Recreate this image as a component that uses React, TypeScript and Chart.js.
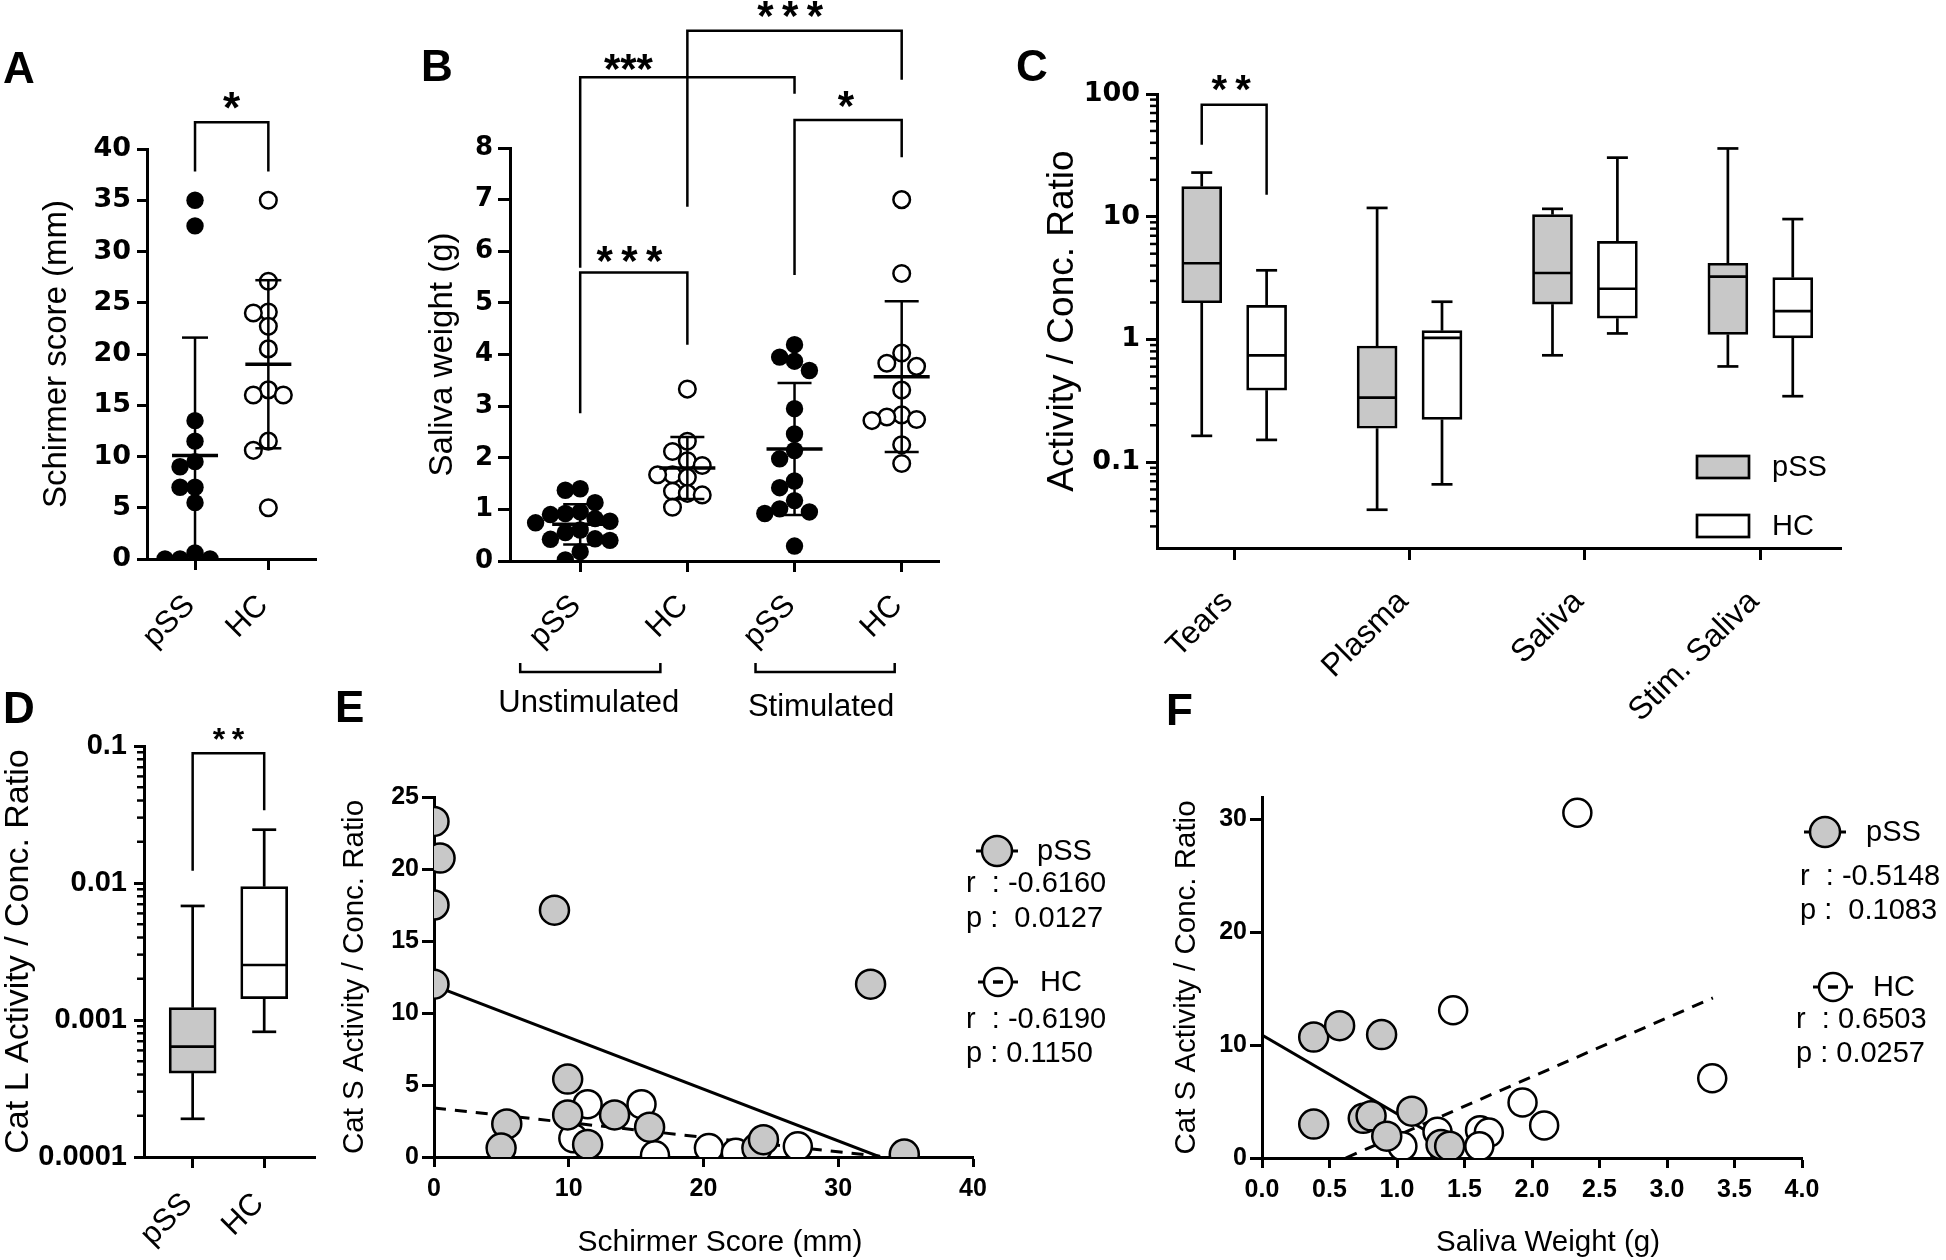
import React, { useEffect, useRef } from 'react';
import { Chart, registerables } from 'chart.js';

Chart.register(...registerables);

// ================= DATA =================
// A – Schirmer score
const schirmerGroups = ['pSS', 'HC'];
const schirmerPss = [35, 32.5, 13.5, 11.5, 9.5, 9, 7, 7, 5.5, 0.6, 0, 0, 0];
const schirmerHc = [35, 27.1, 24.1, 24, 22.7, 20.5, 16.5, 16, 16, 11.5, 10.6, 5];
const schirmerMean = [10.1, 19.0];
const schirmerSd = [11.5, 8.2];
const schirmerTicks = [0, 5, 10, 15, 20, 25, 30, 35, 40];

// B – Saliva weight
const salivaGroups = ['pSS', 'HC', 'pSS', 'HC'];
const salivaConditions = ['Unstimulated', 'Stimulated'];
const salivaUnstimPss = [1.4, 1.37, 1.13, 0.95, 0.92, 0.9, 0.82, 0.77, 0.74, 0.6, 0.55, 0.43, 0.42, 0.4, 0.18, 0.02];
const salivaUnstimHc = [3.33, 2.32, 2.12, 1.94, 1.85, 1.67, 1.67, 1.62, 1.35, 1.31, 1.28, 1.04];
const salivaStimPss = [4.19, 3.95, 3.87, 3.69, 2.95, 2.46, 2.14, 1.98, 1.55, 1.42, 1.17, 1.01, 0.95, 0.92, 0.29];
const salivaStimHc = [7.0, 5.57, 4.03, 3.83, 3.77, 3.31, 2.83, 2.79, 2.74, 2.72, 2.25, 1.89];
const salivaMean = [0.71, 1.8, 2.17, 3.57];
const salivaSd = [0.39, 0.6, 1.28, 1.46];
const salivaTicks = [0, 1, 2, 3, 4, 5, 6, 7, 8];

// C – Activity / concentration ratio (box plots)
const ratioSamples = ['Tears', 'Plasma', 'Saliva', 'Stim. Saliva'];
const ratioPssMin = [0.164, 0.041, 0.743, 0.603];
const ratioPssQ1 = [1.99, 0.189, 1.94, 1.1];
const ratioPssMedian = [4.18, 0.336, 3.48, 3.25];
const ratioPssQ3 = [17.6, 0.885, 10.4, 4.18];
const ratioPssMax = [22.9, 11.8, 11.6, 36];
const ratioHcMin = [0.152, 0.066, 1.12, 0.345];
const ratioHcQ1 = [0.386, 0.223, 1.49, 1.03];
const ratioHcMedian = [0.743, 1.03, 2.59, 1.7];
const ratioHcQ3 = [1.9, 1.18, 6.3, 3.19];
const ratioHcMax = [3.66, 2.03, 30.3, 9.57];
const ratioTicks = [0.1, 1, 10, 100];

// D – Cat L activity / conc ratio
const catLGroups = ['pSS', 'HC'];
const catLMin = [0.00019, 0.00082];
const catLQ1 = [0.00041, 0.00143];
const catLMedian = [0.00064, 0.00252];
const catLQ3 = [0.00123, 0.0094];
const catLMax = [0.0068, 0.0245];
const catLTicks = [0.0001, 0.001, 0.01, 0.1];

// E – Cat S vs Schirmer score
const corrSeries = ['pSS', 'HC'];
const eSchirmerPss = [0, 0.45, 0, 8.94, 0, 32.4, 9.92, 5.4, 4.98, 9.92, 11.4, 13.4, 16.0, 23.96, 24.45, 34.9];
const eCatSPss = [23.3, 20.76, 17.5, 17.14, 12.0, 12.0, 5.41, 2.3, 0.62, 2.92, 0.87, 2.92, 2.07, 0.62, 1.2, 0.2];
const eSchirmerHc = [11.4, 15.4, 10.34, 16.4, 20.4, 22.4, 27.0];
const eCatSHc = [3.67, 3.67, 1.3, 0.12, 0.62, 0.3, 0.75];
const eFitIntercept = [11.9, 3.4];
const eFitSlope = [-0.3595, -0.1012];
const eFitFrom = [0, 0];
const eFitTo = [33.1, 33.1];
const eStats = [['r  : -0.6160', 'p :  0.0127'], ['r  : -0.6190', 'p : 0.1150']];
const eXTicks = [0, 10, 20, 30, 40];
const eYTicks = [0, 5, 10, 15, 20, 25];

// F – Cat S vs saliva weight
const fSalivaPss = [0.383, 0.575, 0.886, 0.383, 0.75, 0.808, 0.924, 1.11, 1.326, 1.39];
const fCatSPss = [10.72, 11.73, 10.94, 3.01, 3.52, 3.74, 1.93, 4.15, 1.2, 1.05];
const fSalivaHc = [2.336, 1.416, 3.335, 1.93, 2.09, 1.3, 1.04, 1.615, 1.68, 1.61, 1.35];
const fCatSHc = [30.6, 13.1, 7.07, 4.92, 2.89, 2.32, 1.05, 2.47, 2.25, 1.05, 0.67];
const fFitIntercept = [10.9, -3.24];
const fFitSlope = [-6.98, 5.22];
const fFitFrom = [0, 0.62];
const fFitTo = [1.39, 3.34];
const fStats = [['r  : -0.5148', 'p :  0.1083'], ['r  : 0.6503', 'p : 0.0257']];
const fXTicks = [0, 0.5, 1, 1.5, 2, 2.5, 3, 3.5, 4];
const fYTicks = [0, 10, 20, 30];

// ================= STYLE / LAYOUT =================
const SANS = "'Liberation Sans', Arial, Helvetica, sans-serif";
const WIDE = "'DejaVu Sans', 'Liberation Sans', sans-serif";
const GRAY = '#c8c8c8';

type Geo = { left: number; top: number; width: number; height: number; l: number; t: number; r: number; b: number };

const GEO_A: Geo = { left: 0, top: 0, width: 340, height: 700, l: 147, t: 149, r: 316, b: 559 };
const GEO_B: Geo = { left: 330, top: 0, width: 620, height: 730, l: 510, t: 148, r: 943, b: 561 };
const GEO_C: Geo = { left: 1000, top: 0, width: 946, height: 740, l: 1157, t: 94, r: 1841, b: 548 };
const GEO_D: Geo = { left: 0, top: 668, width: 340, height: 592, l: 144, t: 746, r: 315, b: 1157 };
const GEO_E: Geo = { left: 330, top: 668, width: 800, height: 592, l: 434, t: 797, r: 973, b: 1157 };
const GEO_F: Geo = { left: 1150, top: 668, width: 796, height: 592, l: 1262, t: 797, r: 1802, b: 1158 };

function zeroPad(s: any) {
  s.paddingLeft = 0; s.paddingRight = 0; s.paddingTop = 0; s.paddingBottom = 0;
}
const fitY = (g: Geo) => (s: any) => { s.width = g.l - g.left; zeroPad(s); };
const fitX = (g: Geo) => (s: any) => { s.height = g.top + g.height - g.b; zeroPad(s); };
const setTicks = (vals: number[]) => (s: any) => { s.ticks = vals.map((v) => ({ value: v })); };

function common(g: Geo) {
  return {
    responsive: false,
    animation: false as const,
    events: [] as any[],
    devicePixelRatio: 1,
    layout: { padding: { left: 0, top: g.t - g.top, right: g.left + g.width - g.r, bottom: 0 } },
    plugins: { legend: { display: false }, tooltip: { enabled: false }, title: { display: false } },
  };
}
function axisLines(tickLength: number) {
  return {
    border: { display: true, color: '#000', width: 3 },
    grid: { display: true, drawOnChartArea: false, drawTicks: true, tickLength, tickWidth: 3, tickColor: '#000', offset: false },
  };
}

function swarm(values: number[], pxPerY: number, pxPerX: number, step: number, minDist: number): number[] {
  const order = values.map((_, i) => i).sort((a, b) => values[b] - values[a]);
  const placed: { x: number; y: number }[] = [];
  const out: number[] = new Array(values.length).fill(0);
  for (const i of order) {
    const y = values[i] * pxPerY;
    for (let k = 0; k < 60; k++) {
      const off = k === 0 ? 0 : (k % 2 === 1 ? -1 : 1) * Math.ceil(k / 2) * step;
      if (placed.every((p) => Math.hypot(p.x - off, p.y - y) >= minDist)) {
        placed.push({ x: off, y });
        out[i] = off / pxPerX;
        break;
      }
    }
  }
  return out;
}

// ================= DRAW HELPERS =================
function hText(ctx: CanvasRenderingContext2D, s: string, x: number, y: number, font: string, align: CanvasTextAlign = 'left', baseline: CanvasTextBaseline = 'alphabetic') {
  ctx.font = font; ctx.fillStyle = '#000'; ctx.textAlign = align; ctx.textBaseline = baseline; ctx.fillText(s, x, y);
}
function vText(ctx: CanvasRenderingContext2D, s: string, cx: number, cy: number, font: string) {
  ctx.save(); ctx.translate(cx, cy); ctx.rotate(-Math.PI / 2); hText(ctx, s, 0, 0, font, 'center', 'middle'); ctx.restore();
}
function rotLabel(ctx: CanvasRenderingContext2D, s: string, x: number, y: number, font: string) {
  ctx.save(); ctx.translate(x, y); ctx.rotate(-Math.PI / 4); hText(ctx, s, 0, 0, font, 'right', 'alphabetic'); ctx.restore();
}
function stars(ctx: CanvasRenderingContext2D, s: string, cx: number, cy: number, size: number) {
  hText(ctx, s, cx, cy + 0.57 * size, `bold ${size}px ${SANS}`, 'center');
}
function letter(ctx: CanvasRenderingContext2D, s: string, x: number, baseline: number) {
  hText(ctx, s, x, baseline, `bold 44px ${SANS}`);
}
function seg(ctx: CanvasRenderingContext2D, pts: number[][], w: number, dash: number[] = []) {
  ctx.save(); ctx.strokeStyle = '#000'; ctx.lineWidth = w; ctx.setLineDash(dash); ctx.lineCap = 'butt'; ctx.lineJoin = 'miter';
  ctx.beginPath(); pts.forEach(([x, y], i) => (i ? ctx.lineTo(x, y) : ctx.moveTo(x, y))); ctx.stroke(); ctx.restore();
}
function bracket(ctx: CanvasRenderingContext2D, x1: number, x2: number, yTop: number, y1: number, y2: number) {
  seg(ctx, [[x1, y1], [x1, yTop], [x2, yTop], [x2, y2]], 2.5);
}
function meanSd(ctx: CanvasRenderingContext2D, x: number, ym: number, ytop: number, ybot: number, capBottom: boolean, halfMean: number, halfCap: number) {
  seg(ctx, [[x, ytop], [x, ybot]], 2.5);
  seg(ctx, [[x - halfCap, ytop], [x + halfCap, ytop]], 2.5);
  if (capBottom) seg(ctx, [[x - halfCap, ybot], [x + halfCap, ybot]], 2.5);
  seg(ctx, [[x - halfMean, ym], [x + halfMean, ym]], 3.5);
}
function whiskers(ctx: CanvasRenderingContext2D, x: number, yq1: number, yq3: number, ymin: number, ymax: number, ymed: number, halfBox: number, halfCap: number) {
  const w = 2.7;
  seg(ctx, [[x, yq3], [x, ymax]], w);
  seg(ctx, [[x - halfCap, ymax], [x + halfCap, ymax]], w);
  seg(ctx, [[x, yq1], [x, ymin]], w);
  seg(ctx, [[x - halfCap, ymin], [x + halfCap, ymin]], w);
  seg(ctx, [[x - halfBox, ymed], [x + halfBox, ymed]], w);
}
function logMinor(ctx: CanvasRenderingContext2D, chart: any, g: Geo, len: number) {
  const s = chart.scales.y;
  for (let e = Math.floor(Math.log10(s.min)); e <= Math.ceil(Math.log10(s.max)); e++) {
    for (let m = 2; m <= 9; m++) {
      const v = m * Math.pow(10, e);
      if (v <= s.min * 1.001 || v >= s.max) continue;
      const y = s.getPixelForValue(v) + g.top;
      seg(ctx, [[g.l - len, y], [g.l, y]], 2.5);
    }
  }
}
function corrLegend(ctx: CanvasRenderingContext2D, o: { cx: number; cy: number; r: number; fill: string; dashed: boolean; name: string; nameX: number; lines: string[]; linesX: number; baselines: number[] }) {
  const font = `29px ${SANS}`;
  seg(ctx, [[o.cx - o.r - 6, o.cy], [o.cx - o.r, o.cy]], 3);
  seg(ctx, [[o.cx + o.r, o.cy], [o.cx + o.r + 6, o.cy]], 3);
  ctx.save();
  ctx.beginPath(); ctx.arc(o.cx, o.cy, o.r, 0, Math.PI * 2);
  ctx.fillStyle = o.fill; ctx.fill(); ctx.lineWidth = 2.5; ctx.strokeStyle = '#000'; ctx.stroke();
  ctx.restore();
  if (o.dashed) seg(ctx, [[o.cx - 5, o.cy], [o.cx + 5, o.cy]], 3.5);
  hText(ctx, o.name, o.nameX, o.cy + 1, font, 'left', 'middle');
  o.lines.forEach((s, i) => hText(ctx, s, o.linesX, o.baselines[i], font));
}

function annot(g: Geo, draw: (ctx: CanvasRenderingContext2D, X: (v: number) => number, Y: (v: number) => number, chart: any) => void) {
  return {
    id: 'annot',
    afterDraw(chart: any) {
      const ctx = chart.ctx as CanvasRenderingContext2D;
      ctx.save();
      ctx.translate(-g.left, -g.top);
      const X = (v: number) => chart.scales.x.getPixelForValue(v) + g.left;
      const Y = (v: number) => chart.scales.y.getPixelForValue(v) + g.top;
      draw(ctx, X, Y, chart);
      ctx.restore();
    },
  };
}

const pointsStyle = (filled: string, radius: number, bw: number) => ({
  pointRadius: radius,
  pointBackgroundColor: filled,
  backgroundColor: filled,
  pointBorderColor: '#000',
  borderColor: '#000',
  pointBorderWidth: bw,
});

// ================= PANELS =================
function configA(g: Geo) {
  const xmin = -0.655, xmax = 1.65, ymax = 40;
  const pxX = (g.r - g.l) / (xmax - xmin), pxY = (g.b - g.t) / ymax;
  const offP = swarm(schirmerPss, pxY, pxX, 15, 14);
  const offH = swarm(schirmerHc, pxY, pxX, 15, 14);
  const plugin = annot(g, (ctx, X, Y) => {
    schirmerMean.forEach((m, i) => {
      const lo = m - schirmerSd[i];
      meanSd(ctx, X(i), Y(m), Y(m + schirmerSd[i]), Y(Math.max(lo, 0)), lo >= 0, 23, 13);
    });
    bracket(ctx, X(0), X(1), Y(42.6), Y(37.8), Y(37.8));
    stars(ctx, '*', (X(0) + X(1)) / 2, Y(45), 44);
    schirmerGroups.forEach((s, i) => rotLabel(ctx, s, X(i) + 1, g.b + 48, `31px ${SANS}`));
    vText(ctx, 'Schirmer score (mm)', 57, (g.t + g.b) / 2, `33px ${SANS}`);
    letter(ctx, 'A', 3, 83);
  });
  return {
    type: 'scatter',
    data: {
      datasets: [
        { label: schirmerGroups[0], data: schirmerPss.map((v, i) => ({ x: 0 + offP[i], y: v })), ...pointsStyle('#000', 8.7, 0) },
        { label: schirmerGroups[1], data: schirmerHc.map((v, i) => ({ x: 1 + offH[i], y: v })), ...pointsStyle('#fff', 8.3, 2.5) },
      ],
    },
    options: {
      ...common(g),
      scales: {
        x: { type: 'linear', min: xmin, max: xmax, bounds: 'data', ...axisLines(11), ticks: { display: false }, afterBuildTicks: setTicks([0, 1]), afterFit: fitX(g) },
        y: { type: 'linear', min: 0, max: ymax, bounds: 'data', ...axisLines(10), ticks: { color: '#000', padding: 6, font: { family: WIDE, size: 27, weight: 'bold' } }, afterBuildTicks: setTicks(schirmerTicks), afterFit: fitY(g) },
      },
    },
    plugins: [plugin],
  };
}

const bBrackets = [
  { a: 0, b: 1, top: 5.59, ea: 2.86, eb: 4.19, text: '*\u2009*\u2009*', tx: 0.46, ty: 6.0 },
  { a: 0, b: 2, top: 9.37, ea: 5.68, eb: 9.05, text: '***', tx: 0.45, ty: 9.73 },
  { a: 1, b: 3, top: 10.27, ea: 6.86, eb: 9.32, text: '*\u2009*\u2009*', tx: 1.96, ty: 10.74 },
  { a: 2, b: 3, top: 8.54, ea: 5.54, eb: 7.82, text: '*', tx: 2.48, ty: 9.0 },
];

function configB(g: Geo) {
  const xmin = -0.655, xmax = 3.35, ymax = 8;
  const pxX = (g.r - g.l) / (xmax - xmin), pxY = (g.b - g.t) / ymax;
  const groups = [salivaUnstimPss, salivaUnstimHc, salivaStimPss, salivaStimHc];
  const datasets = groups.map((vals, gi) => {
    const off = swarm(vals, pxY, pxX, 15, 14);
    const filled = gi % 2 === 0;
    return { label: salivaGroups[gi], data: vals.map((v, i) => ({ x: gi + off[i], y: v })), ...pointsStyle(filled ? '#000' : '#fff', filled ? 8.7 : 8.3, filled ? 0 : 2.5) };
  });
  const plugin = annot(g, (ctx, X, Y) => {
    salivaMean.forEach((m, i) => {
      const lo = m - salivaSd[i];
      meanSd(ctx, X(i), Y(m), Y(m + salivaSd[i]), Y(Math.max(lo, 0)), lo >= 0, 28, 17);
    });
    bBrackets.forEach((br) => {
      bracket(ctx, X(br.a), X(br.b), Y(br.top), Y(br.ea), Y(br.eb));
      stars(ctx, br.text, X(br.tx), Y(br.ty), 42);
    });
    salivaGroups.forEach((s, i) => rotLabel(ctx, s, X(i) + 2, g.b + 46, `31px ${SANS}`));
    const yb = 672;
    const spans = [[X(0) - 60, X(1) - 27, (X(0) + X(1)) / 2 - 45, 712], [X(2) - 39, X(3) - 7, (X(2) + X(3)) / 2 - 27, 716]];
    spans.forEach(([x1, x2, tx, ty], i) => {
      seg(ctx, [[x1, yb - 9], [x1, yb], [x2, yb], [x2, yb - 9]], 2.5);
      hText(ctx, salivaConditions[i], tx, ty, `31px ${SANS}`, 'center');
    });
    vText(ctx, 'Saliva weight (g)', 443, (g.t + g.b) / 2, `33px ${SANS}`);
    letter(ctx, 'B', 421, 81);
  });
  return {
    type: 'scatter',
    data: { datasets },
    options: {
      ...common(g),
      scales: {
        x: { type: 'linear', min: xmin, max: xmax, bounds: 'data', ...axisLines(11), ticks: { display: false }, afterBuildTicks: setTicks([0, 1, 2, 3]), afterFit: fitX(g) },
        y: { type: 'linear', min: 0, max: ymax, bounds: 'data', ...axisLines(12), ticks: { color: '#000', padding: 5, font: { family: WIDE, size: 26, weight: 'bold' } }, afterBuildTicks: setTicks(salivaTicks), afterFit: fitY(g) },
      },
    },
    plugins: [plugin],
  };
}

function configC(g: Geo) {
  const xmin = -0.44, xmax = 3.46, off = 0.185, boxW = 40;
  const plugin = annot(g, (ctx, X, Y, chart) => {
    ratioSamples.forEach((_, i) => {
      whiskers(ctx, X(i - off), Y(ratioPssQ1[i]), Y(ratioPssQ3[i]), Y(ratioPssMin[i]), Y(ratioPssMax[i]), Y(ratioPssMedian[i]), boxW / 2 - 1, 10.5);
      whiskers(ctx, X(i + off), Y(ratioHcQ1[i]), Y(ratioHcQ3[i]), Y(ratioHcMin[i]), Y(ratioHcMax[i]), Y(ratioHcMedian[i]), boxW / 2 - 1, 10.5);
    });
    logMinor(ctx, chart, g, 7);
    bracket(ctx, X(-off), X(off), Y(81.8), Y(38.6), Y(15.1));
    stars(ctx, '*\u2009*', (X(-off) + X(off)) / 2 - 3, 80, 40);
    ratioSamples.forEach((s, i) => rotLabel(ctx, s, X(i), g.b + 55, `32px ${SANS}`));
    const font = `29px ${SANS}`;
    [[456, GRAY, corrSeries[0]], [515, '#fff', corrSeries[1]]].forEach(([y, fill, name]) => {
      ctx.save(); ctx.fillStyle = fill as string; ctx.fillRect(1697, y as number, 52, 22);
      ctx.lineWidth = 2.7; ctx.strokeStyle = '#000'; ctx.strokeRect(1697, y as number, 52, 22); ctx.restore();
      hText(ctx, name as string, 1772, (y as number) + 12, font, 'left', 'middle');
    });
    vText(ctx, 'Activity / Conc. Ratio', 1063, (g.t + g.b) / 2, `37px ${SANS}`);
    letter(ctx, 'C', 1016, 81);
  });
  const boxSet = (label: string, q1: number[], q3: number[], dx: number, fill: string) => ({
    label,
    data: ratioSamples.map((_, i) => ({ x: i + dx, y: [q1[i], q3[i]] })),
    backgroundColor: fill, borderColor: '#000', borderWidth: 2.7, borderSkipped: false, barThickness: boxW, grouped: false,
  });
  return {
    type: 'bar',
    data: { datasets: [boxSet(corrSeries[0], ratioPssQ1, ratioPssQ3, -off, GRAY), boxSet(corrSeries[1], ratioHcQ1, ratioHcQ3, off, '#fff')] },
    options: {
      ...common(g),
      scales: {
        x: { type: 'linear', min: xmin, max: xmax, offset: false, bounds: 'data', ...axisLines(12), ticks: { display: false }, afterBuildTicks: setTicks([0, 1, 2, 3]), afterFit: fitX(g) },
        y: { type: 'logarithmic', min: 0.02, max: 100, bounds: 'data', ...axisLines(11), ticks: { color: '#000', padding: 6, font: { family: WIDE, size: 27, weight: 'bold' }, callback: (v: any) => String(v) }, afterBuildTicks: setTicks(ratioTicks), afterFit: fitY(g) },
      },
    },
    plugins: [plugin],
  };
}

function configD(g: Geo) {
  const xmin = -0.68, xmax = 1.71, boxW = 47;
  const plugin = annot(g, (ctx, X, Y, chart) => {
    catLGroups.forEach((_, i) => {
      whiskers(ctx, X(i), Y(catLQ1[i]), Y(catLQ3[i]), Y(catLMin[i]), Y(catLMax[i]), Y(catLMedian[i]), boxW / 2 - 1, 12);
    });
    logMinor(ctx, chart, g, 7);
    bracket(ctx, X(0), X(1), Y(0.0887), Y(0.0123), Y(0.034));
    stars(ctx, '*\u2009*', (X(0) + X(1)) / 2, 732, 32);
    catLGroups.forEach((s, i) => rotLabel(ctx, s, X(i) + 1, g.b + 48, `31px ${SANS}`));
    vText(ctx, 'Cat L Activity / Conc. Ratio', 19, (g.t + g.b) / 2, `34px ${SANS}`);
    letter(ctx, 'D', 3, 723);
  });
  return {
    type: 'bar',
    data: {
      datasets: [
        {
          label: 'Cat L',
          data: catLGroups.map((_, i) => ({ x: i, y: [catLQ1[i], catLQ3[i]] })),
          backgroundColor: [GRAY, '#fff'], borderColor: '#000', borderWidth: 2.7, borderSkipped: false, barThickness: boxW, grouped: false,
        },
      ],
    },
    options: {
      ...common(g),
      scales: {
        x: { type: 'linear', min: xmin, max: xmax, offset: false, bounds: 'data', ...axisLines(11), ticks: { display: false }, afterBuildTicks: setTicks([0, 1]), afterFit: fitX(g) },
        y: { type: 'logarithmic', min: 0.0001, max: 0.1, bounds: 'data', ...axisLines(10), ticks: { color: '#000', padding: 7, font: { family: SANS, size: 29, weight: 'bold' }, callback: (v: any) => String(v) }, afterBuildTicks: setTicks(catLTicks), afterFit: fitY(g) },
      },
    },
    plugins: [plugin],
  };
}

function corrConfig(
  g: Geo, xs: number[][], ys: number[][], fit: { b: number[]; m: number[]; from: number[]; to: number[] },
  xr: [number, number], yr: [number, number], xTicks: number[], yTicks: number[], xFmt: (v: number) => string,
  radius: number, draw: (ctx: CanvasRenderingContext2D) => void,
) {
  const fitData = (k: number) => [fit.from[k], fit.to[k]].map((x) => ({ x, y: fit.b[k] + fit.m[k] * x }));
  const plugin = annot(g, (ctx) => draw(ctx));
  return {
    type: 'scatter',
    data: {
      datasets: [
        { label: corrSeries[0], data: xs[0].map((x, i) => ({ x, y: ys[0][i] })), ...pointsStyle(GRAY, radius, 2.5), order: 0 },
        { label: corrSeries[1], data: xs[1].map((x, i) => ({ x, y: ys[1][i] })), ...pointsStyle('#fff', radius - 0.5, 2.5), order: 1 },
        { label: corrSeries[0] + ' fit', data: fitData(0), showLine: true, pointRadius: 0, borderColor: '#000', borderWidth: 3, order: 2 },
        { label: corrSeries[1] + ' fit', data: fitData(1), showLine: true, pointRadius: 0, borderColor: '#000', borderWidth: 3, borderDash: [12, 9], order: 3 },
      ],
    },
    options: {
      ...common(g),
      scales: {
        x: { type: 'linear', min: xr[0], max: xr[1], bounds: 'data', ...axisLines(10), ticks: { color: '#000', padding: 7, font: { family: SANS, size: 25, weight: 'bold' }, callback: (v: any) => xFmt(Number(v)) }, afterBuildTicks: setTicks(xTicks), afterFit: fitX(g) },
        y: { type: 'linear', min: yr[0], max: yr[1], bounds: 'data', ...axisLines(12), ticks: { color: '#000', padding: 3, font: { family: SANS, size: 25, weight: 'bold' } }, afterBuildTicks: setTicks(yTicks), afterFit: fitY(g) },
      },
    },
    plugins: [plugin],
  };
}

function configE(g: Geo) {
  return corrConfig(
    g, [eSchirmerPss, eSchirmerHc], [eCatSPss, eCatSHc],
    { b: eFitIntercept, m: eFitSlope, from: eFitFrom, to: eFitTo },
    [0, 40], [0, 25], eXTicks, eYTicks, (v) => String(v), 14.5,
    (ctx) => {
      corrLegend(ctx, { cx: 997, cy: 851, r: 15, fill: GRAY, dashed: false, name: corrSeries[0], nameX: 1037, lines: eStats[0], linesX: 966, baselines: [892, 927] });
      corrLegend(ctx, { cx: 998, cy: 982, r: 14, fill: '#fff', dashed: true, name: corrSeries[1], nameX: 1040, lines: eStats[1], linesX: 966, baselines: [1028, 1062] });
      hText(ctx, 'Schirmer Score (mm)', 720, 1251, `30px ${SANS}`, 'center');
      vText(ctx, 'Cat S Activity / Conc. Ratio', 355, (g.t + g.b) / 2, `29.5px ${SANS}`);
      letter(ctx, 'E', 335, 722);
    },
  );
}

function configF(g: Geo) {
  return corrConfig(
    g, [fSalivaPss, fSalivaHc], [fCatSPss, fCatSHc],
    { b: fFitIntercept, m: fFitSlope, from: fFitFrom, to: fFitTo },
    [0, 4], [0, 32], fXTicks, fYTicks, (v) => v.toFixed(1), 14.5,
    (ctx) => {
      corrLegend(ctx, { cx: 1825, cy: 832, r: 15, fill: GRAY, dashed: false, name: corrSeries[0], nameX: 1866, lines: fStats[0], linesX: 1800, baselines: [885, 919] });
      corrLegend(ctx, { cx: 1833, cy: 987, r: 14, fill: '#fff', dashed: true, name: corrSeries[1], nameX: 1873, lines: fStats[1], linesX: 1796, baselines: [1028, 1062] });
      hText(ctx, 'Saliva Weight (g)', 1548, 1251, `29.5px ${SANS}`, 'center');
      vText(ctx, 'Cat S Activity / Conc. Ratio', 1187, (g.t + g.b) / 2, `29.5px ${SANS}`);
      letter(ctx, 'F', 1166, 725);
    },
  );
}

// ================= REACT =================
function Panel({ geo, make }: { geo: Geo; make: (g: Geo) => any }) {
  const ref = useRef<HTMLCanvasElement | null>(null);
  useEffect(() => {
    if (!ref.current) return;
    const chart = new Chart(ref.current, make(geo));
    return () => chart.destroy();
  }, [geo, make]);
  return (
    <canvas
      ref={ref}
      width={geo.width}
      height={geo.height}
      style={{ position: 'absolute', left: geo.left, top: geo.top, width: geo.width, height: geo.height }}
    />
  );
}

export default function App() {
  return (
    <div style={{ position: 'fixed', left: 0, top: 0, width: 1946, height: 1260, background: '#fff', overflow: 'hidden' }}>
      <Panel geo={GEO_A} make={configA} />
      <Panel geo={GEO_B} make={configB} />
      <Panel geo={GEO_C} make={configC} />
      <Panel geo={GEO_D} make={configD} />
      <Panel geo={GEO_E} make={configE} />
      <Panel geo={GEO_F} make={configF} />
    </div>
  );
}
